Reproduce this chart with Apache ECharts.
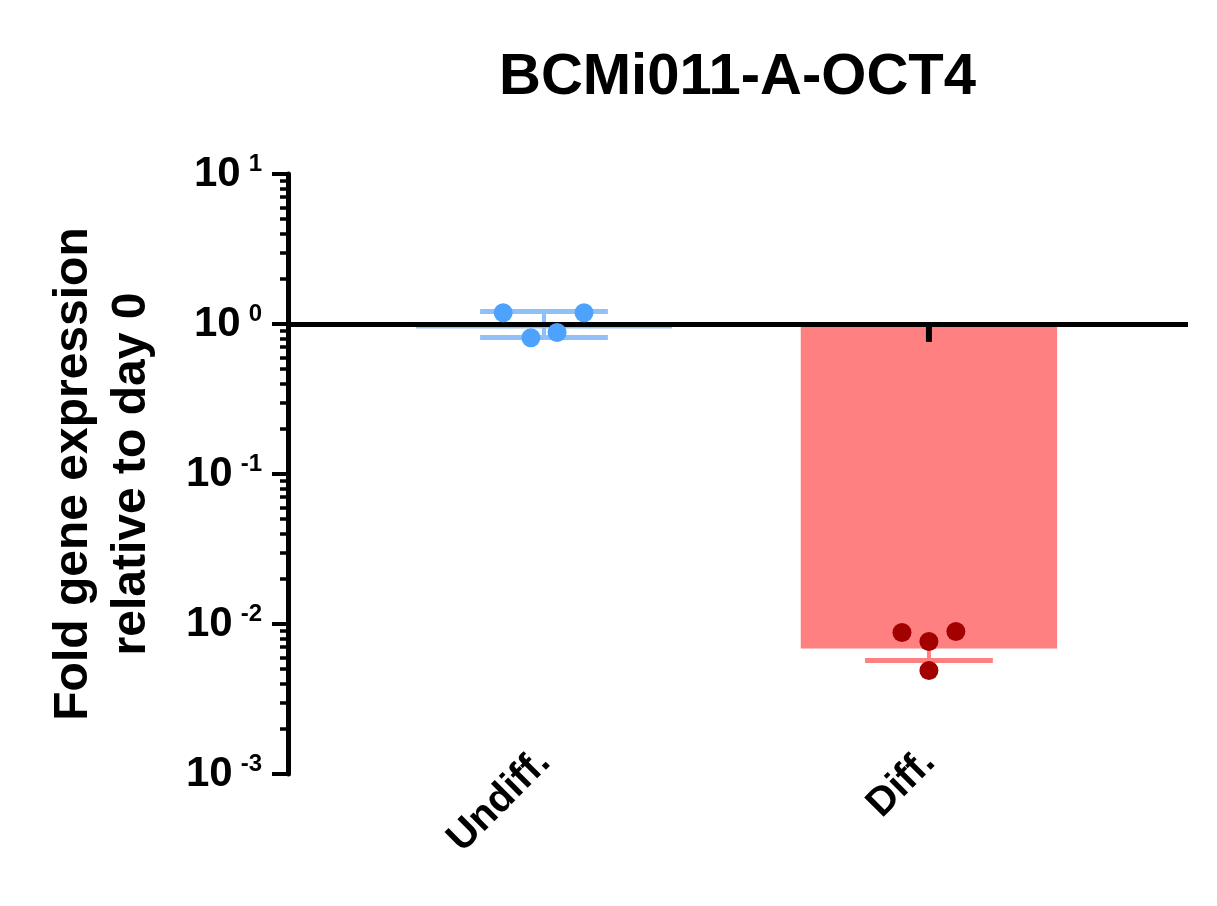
<!DOCTYPE html>
<html>
<head>
<meta charset="utf-8">
<script src="https://cdn.jsdelivr.net/npm/echarts@6/dist/echarts.min.js"></script>
<style>
html,body{margin:0;padding:0;background:#fff;}
#chart{width:1217px;height:906px;}
</style>
</head>
<body>
<div id="chart"></div>
<script>
// ---- data ----
const titleText = 'BCMi011-A-OCT4';
const categories = ['Undiff.', 'Diff.'];
const barMeans = [0.933, 0.00687];
const sdLow = [0.813, 0.00571];
const sdHigh = [1.21, 0.0083];
const undiffPoints = [1.19, 0.81, 0.877, 1.19];
const diffPoints = [0.00878, 0.00764, 0.00891, 0.0049];
const diffBlackTick = [1, 0.76];
const yTickExponents = ['1', '0', '-1', '-2', '-3'];
const yAxisName = 'Fold gene expression\nrelative to day 0';

// ---- layout / style ----
const FONT = '"Liberation Sans", Arial, Helvetica, sans-serif';
const barHalf = 0.333;
const capHalf = 0.166;
const undiffOffsets = [-0.106, -0.034, 0.034, 0.104];
const diffOffsets = [-0.07, 0, 0.07, 0];
const barColors = ['#8fc1f8', '#ff8080'];
const dotColors = ['#4ca2fd', '#a30000'];

const minorTickLogs = [];
for (let e = -3; e <= 0; e++) {
  for (let m = 2; m <= 9; m++) minorTickLogs.push(Math.log10(m) + e);
}

const chart = echarts.init(document.getElementById('chart'));

const option = {
  animation: false,
  backgroundColor: '#fff',
  title: {
    text: titleText,
    left: 494,
    top: 44,
    textStyle: {fontFamily: FONT, fontSize: 58, fontWeight: 'bold', color: '#000'}
  },
  grid: {left: 288, right: 29, top: 174, bottom: 132, containLabel: false},
  xAxis: {
    type: 'value',
    min: 0.335,
    max: 2.673,
    axisLine: {show: false},
    axisTick: {show: false},
    splitLine: {show: false},
    axisLabel: {
      customValues: [1, 2],
      formatter: v => categories[Math.round(v) - 1] || '',
      rotate: 45,
      margin: -18,
      fontFamily: FONT, fontSize: 40, fontWeight: 'bold', color: '#000'
    }
  },
  yAxis: [{
    type: 'log',
    logBase: 10,
    min: 0.001,
    max: 10,
    position: 'left',
    name: yAxisName,
    nameLocation: 'middle',
    nameGap: 127,
    nameTextStyle: {fontFamily: FONT, fontSize: 48, fontWeight: 'bold', color: '#000', lineHeight: 58, align: 'center'},
    axisLine: {show: true, lineStyle: {color: '#000', width: 5}},
    axisTick: {show: true, inside: false, length: 16, lineStyle: {color: '#000', width: 4}},
    splitLine: {show: false},
    minorTick: {show: false},
    axisLabel: {
      margin: 26,
      formatter: v => {
        const e = Math.round(Math.log10(v));
        return '{b|10}{s|' + (yTickExponents.indexOf(String(e)) >= 0 ? String(e) : e) + '}';
      },
      rich: {
        b: {fontFamily: FONT, fontSize: 42, fontWeight: 'bold', color: '#000', lineHeight: 44},
        s: {fontFamily: FONT, fontSize: 24, fontWeight: 'bold', color: '#000', verticalAlign: 'top', lineHeight: 26, padding: [0, 0, 0, 8]}
      }
    }
  }, {
    type: 'value',
    min: -3,
    max: 1,
    position: 'left',
    offset: 0,
    axisLine: {show: false},
    axisLabel: {show: false},
    splitLine: {show: false},
    axisTick: {show: true, inside: false, length: 8, customValues: minorTickLogs, lineStyle: {color: '#000', width: 3.5}}
  }],
  series: [
    {
      type: 'custom',
      name: 'bars',
      z: 1,
      data: barMeans.map((v, i) => [i + 1, v]),
      renderItem: (params, api) => {
        const x = api.value(0), v = api.value(1);
        const p0 = api.coord([x - barHalf, 1]);
        const p1 = api.coord([x + barHalf, v]);
        return {
          type: 'rect',
          shape: {x: p0[0], y: Math.min(p0[1], p1[1]), width: p1[0] - p0[0], height: Math.abs(p1[1] - p0[1])},
          style: {fill: barColors[params.dataIndex]}
        };
      }
    },
    {
      type: 'custom',
      name: 'sd',
      z: 2,
      data: barMeans.map((v, i) => [i + 1, sdLow[i], sdHigh[i]]),
      renderItem: (params, api) => {
        const x = api.value(0);
        const lo = api.coord([x, api.value(1)]);
        const hi = api.coord([x, api.value(2)]);
        const l = api.coord([x - capHalf, api.value(1)])[0];
        const r = api.coord([x + capHalf, api.value(1)])[0];
        const c = barColors[params.dataIndex];
        return {
          type: 'group',
          children: [
            {type: 'line', shape: {x1: lo[0], y1: lo[1], x2: hi[0], y2: hi[1]}, style: {stroke: c, lineWidth: 4}},
            {type: 'line', shape: {x1: l, y1: lo[1], x2: r, y2: lo[1]}, style: {stroke: c, lineWidth: 5}},
            {type: 'line', shape: {x1: l, y1: hi[1], x2: r, y2: hi[1]}, style: {stroke: c, lineWidth: 5}}
          ]
        };
      }
    },
    {
      type: 'custom',
      name: 'blackTick',
      z: 3,
      data: [[2, diffBlackTick[0], diffBlackTick[1]]],
      renderItem: (params, api) => {
        const a = api.coord([api.value(0), api.value(1)]);
        const b = api.coord([api.value(0), api.value(2)]);
        return {type: 'line', shape: {x1: a[0], y1: a[1], x2: b[0], y2: b[1]}, style: {stroke: '#000', lineWidth: 6}};
      }
    },
    {
      type: 'line',
      name: 'baseline',
      z: 4,
      data: [],
      markLine: {
        silent: true,
        symbol: 'none',
        label: {show: false},
        lineStyle: {color: '#000', width: 5, type: 'solid'},
        data: [{yAxis: 1}]
      }
    },
    {
      type: 'scatter',
      name: 'Undiff points',
      z: 5,
      symbol: 'circle',
      symbolSize: 19,
      itemStyle: {color: dotColors[0], opacity: 1},
      data: undiffPoints.map((v, i) => [1 + undiffOffsets[i], v])
    },
    {
      type: 'scatter',
      name: 'Diff points',
      z: 5,
      symbol: 'circle',
      symbolSize: 19,
      itemStyle: {color: dotColors[1], opacity: 1},
      data: diffPoints.map((v, i) => [2 + diffOffsets[i], v])
    }
  ]
};

chart.setOption(option);
</script>
</body>
</html>
